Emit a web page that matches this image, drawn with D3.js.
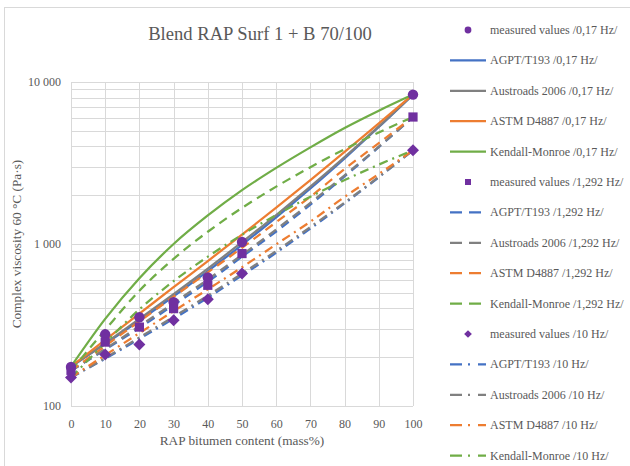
<!DOCTYPE html>
<html>
<head>
<meta charset="utf-8">
<script src="https://cdn.jsdelivr.net/npm/d3@7"></script>
<style>
  body { margin: 0; background: #ffffff; }
  text { font-family: "Liberation Serif", "Times New Roman", serif; fill: #595959; }
</style>
</head>
<body>
<script>
// RAP content steps for model curves and measured points
var rapContent = [0, 10, 20, 30, 40, 50, 60, 70, 80, 90, 100];
var measuredContent = [0, 10, 20, 30, 40, 50, 100];

// measured values (Pa·s)
var measured017 = [174, 277, 353, 438, 622, 1029, 8360];
var measured1292 = [166, 248, 307, 399, 556, 873, 6080];
var measured10 = [150, 208, 240, 338, 456, 657, 3790];

// model curves /0,17 Hz/
var agpt017 = [175, 242, 337, 476, 681, 989, 1462, 2203, 3381, 5272, 8360];
var austroads017 = [175, 244, 345, 491, 705, 1026, 1510, 2259, 3436, 5321, 8360];
var astm017 = [175, 256, 372, 541, 785, 1143, 1675, 2477, 3698, 5559, 8360];
var kendall017 = [175, 345, 615, 1000, 1500, 2150, 2950, 3950, 5200, 6650, 8360];

// model curves /1,292 Hz/
var agpt1292 = [165, 223, 304, 420, 585, 834, 1194, 1750, 2612, 3963, 6080];
var austroads1292 = [165, 225, 311, 432, 604, 857, 1230, 1795, 2655, 3990, 6080];
var astm1292 = [165, 235, 333, 473, 668, 948, 1365, 1959, 2904, 4200, 6080];
var kendall1292 = [165, 295, 515, 810, 1190, 1670, 2260, 2980, 3850, 4880, 6080];

// model curves /10 Hz/
var agpt10 = [150, 196, 260, 346, 466, 640, 883, 1245, 1782, 2582, 3790];
var austroads10 = [150, 198, 265, 355, 480, 656, 906, 1273, 1803, 2600, 3790];
var astm10 = [150, 206, 282, 385, 525, 718, 995, 1375, 1955, 2704, 3790];
var kendall10 = [150, 245, 395, 590, 835, 1140, 1510, 1960, 2480, 3090, 3790];

var yTicks = [100, 1000, 10000];
var xTicks = [0, 10, 20, 30, 40, 50, 60, 70, 80, 90, 100];

var purple = "#7030a0";
var blue = "#4472c4", gray = "#808080", orange = "#ed7d31", green = "#70ad47";
var dashed = "9,6", dashDot = "9,5,2,5";

// legend / series order as in the original
var series = [
  {name: "measured values /0,17 Hz/", type: "marker", symbol: "circle", data: measured017},
  {name: "AGPT/T193 /0,17 Hz/", type: "line", color: blue, dash: null, data: agpt017},
  {name: "Austroads 2006 /0,17 Hz/", type: "line", color: gray, dash: null, data: austroads017},
  {name: "ASTM D4887 /0,17 Hz/", type: "line", color: orange, dash: null, data: astm017},
  {name: "Kendall-Monroe /0,17 Hz/", type: "line", color: green, dash: null, data: kendall017},
  {name: "measured values /1,292 Hz/", type: "marker", symbol: "square", data: measured1292},
  {name: "AGPT/T193 /1,292 Hz/", type: "line", color: blue, dash: dashed, data: agpt1292},
  {name: "Austroads 2006 /1,292 Hz/", type: "line", color: gray, dash: dashed, data: austroads1292},
  {name: "ASTM D4887 /1,292 Hz/", type: "line", color: orange, dash: dashed, data: astm1292},
  {name: "Kendall-Monroe /1,292 Hz/", type: "line", color: green, dash: dashed, data: kendall1292},
  {name: "measured values /10 Hz/", type: "marker", symbol: "diamond", data: measured10},
  {name: "AGPT/T193 /10 Hz/", type: "line", color: blue, dash: dashDot, data: agpt10},
  {name: "Austroads 2006 /10 Hz/", type: "line", color: gray, dash: dashDot, data: austroads10},
  {name: "ASTM D4887 /10 Hz/", type: "line", color: orange, dash: dashDot, data: astm10},
  {name: "Kendall-Monroe /10 Hz/", type: "line", color: green, dash: dashDot, data: kendall10}
];

var svgWidth = 630;
var svgHeight = 466;

var margin = {top: 82, right: 217, bottom: 60, left: 71};
var width = svgWidth - margin.left - margin.right;
var height = svgHeight - margin.top - margin.bottom;

var svg = d3.select("body")
  .append("svg")
  .attr("width", svgWidth)
  .attr("height", svgHeight);

// chart frame
svg.append("rect")
  .attr("x", 4.5)
  .attr("y", 7.5)
  .attr("width", 700)
  .attr("height", 600)
  .attr("fill", "none")
  .attr("stroke", "#d9d9d9");

var chartGroup = svg.append("g")
  .attr("transform", `translate(${margin.left}, ${margin.top})`);

var xScale = d3.scaleLinear().domain([0, 100]).range([0, width]);
var yScale = d3.scaleLog().domain([100, 10000]).range([height, 0]);

// marker shapes: diamond is a square turned 45°
function markerPath(kind, size) {
  if (kind === "circle") return d3.symbol().type(d3.symbolCircle).size(size)();
  return d3.symbol().type(d3.symbolSquare).size(size)();
}
function markerRotate(kind) {
  return kind === "diamond" ? " rotate(45)" : "";
}

// gridlines
var minorTicks = [];
[100, 1000].forEach(function(base) {
  for (var k = 1; k <= 10; k++) minorTicks.push(base * k);
});
minorTicks = Array.from(new Set(minorTicks));

chartGroup.append("g")
  .selectAll("line")
  .data(minorTicks)
  .enter()
  .append("line")
  .attr("x1", 0)
  .attr("x2", width)
  .attr("y1", d => Math.round(yScale(d)) + 0.5)
  .attr("y2", d => Math.round(yScale(d)) + 0.5)
  .attr("stroke", "#d9d9d9");

chartGroup.append("g")
  .selectAll("line")
  .data(xTicks)
  .enter()
  .append("line")
  .attr("x1", d => Math.round(xScale(d)) + 0.5)
  .attr("x2", d => Math.round(xScale(d)) + 0.5)
  .attr("y1", 0)
  .attr("y2", height)
  .attr("stroke", "#d9d9d9");

// axes (labels only, lines come from the grid)
var bottomAxis = d3.axisBottom(xScale).tickValues(xTicks).tickSize(0).tickPadding(13);
var leftAxis = d3.axisLeft(yScale).tickValues(yTicks).tickSize(0).tickPadding(10)
  .tickFormat(d => d3.format(",")(d).replace(/,/g, " "));

var gx = chartGroup.append("g")
  .attr("transform", `translate(0, ${height})`)
  .call(bottomAxis);
var gy = chartGroup.append("g")
  .call(leftAxis);
[gx, gy].forEach(function(g) {
  g.select(".domain").remove();
  g.selectAll("text")
    .style("font-family", "Liberation Serif, serif")
    .style("font-size", "12px")
    .attr("fill", "#595959");
});

// model lines
var lineGen = d3.line()
  .x((d, i) => xScale(rapContent[i]))
  .y(d => yScale(d))
  .curve(d3.curveMonotoneX);

series.filter(s => s.type === "line").forEach(function(s) {
  chartGroup.append("path")
    .datum(s.data)
    .attr("d", lineGen)
    .attr("fill", "none")
    .attr("stroke", s.color)
    .attr("stroke-width", 2.25)
    .attr("stroke-dasharray", s.dash);
});

// measured markers
series.filter(s => s.type === "marker").forEach(function(s) {
  var size = s.symbol === "diamond" ? 72 : 85;
  chartGroup.append("g")
    .selectAll("path")
    .data(s.data)
    .enter()
    .append("path")
    .attr("transform", (d, i) => `translate(${xScale(measuredContent[i])}, ${yScale(d)})` + markerRotate(s.symbol))
    .attr("d", markerPath(s.symbol, size))
    .attr("fill", purple);
});

// title and axis titles
svg.append("text")
  .attr("x", 260)
  .attr("y", 40)
  .attr("text-anchor", "middle")
  .style("font-size", "18.6px")
  .text("Blend RAP Surf 1 + B 70/100");

svg.append("text")
  .attr("transform", "translate(21, 244) rotate(-90)")
  .attr("text-anchor", "middle")
  .style("font-size", "13.3px")
  .text("Complex viscosity 60 °C (Pa·s)");

svg.append("text")
  .attr("x", margin.left + width / 2)
  .attr("y", 445)
  .attr("text-anchor", "middle")
  .style("font-size", "13.3px")
  .text("RAP bitumen content (mass%)");

// legend
var legend = svg.append("g");
series.forEach(function(s, i) {
  var cy = 30 + i * 30.4;
  if (s.type === "marker") {
    var sz = s.symbol === "diamond" ? 30 : 36;
    legend.append("path")
      .attr("transform", `translate(468, ${cy})` + markerRotate(s.symbol))
      .attr("d", markerPath(s.symbol, sz))
      .attr("fill", purple);
  } else {
    legend.append("line")
      .attr("x1", 450)
      .attr("x2", s.dash === dashed ? 481 : 486)
      .attr("y1", cy)
      .attr("y2", cy)
      .attr("stroke", s.color)
      .attr("stroke-width", 2.25)
      .attr("stroke-dasharray", s.dash ? (s.dash === dashed ? "12,7" : "12,6,2,8") : null);
  }
  legend.append("text")
    .attr("x", 490)
    .attr("y", cy + 4)
    .style("font-size", "12px")
    .text(s.name);
});
</script>
</body>
</html>
